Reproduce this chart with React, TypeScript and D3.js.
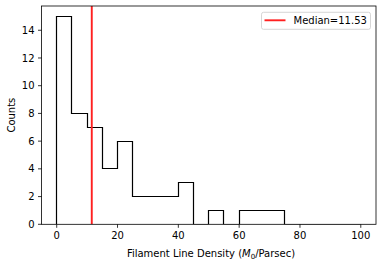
import React from 'react';
import * as d3 from 'd3';

// histogram bins (edges) and counts
const binEdges = [0, 5, 10, 15, 20, 25, 30, 35, 40, 45, 50, 55, 60, 65, 70, 75, 80, 85, 90, 95, 100];
const binCounts = [15, 8, 7, 4, 6, 2, 2, 2, 3, 0, 1, 0, 1, 1, 1, 0, 0, 0, 0, 0];
const medianValue = 11.53;
const xTicks = [0, 20, 40, 60, 80, 100];
const yTicks = [0, 2, 4, 6, 8, 10, 12, 14];

const W = 382;
const H = 266;
const margin = { left: 41.5, right: 6, top: 6, bottom: 41.7 };
const font = 'DejaVu Sans, sans-serif';

const snap = (v: number) => Math.round(v - 0.5) + 0.5;

const App = () => {
  const x = d3.scaleLinear().domain([-5, 105]).range([margin.left, W - margin.right]);
  const y = d3.scaleLinear().domain([0, 15.75]).range([H - margin.bottom, margin.top]);

  // step outline like matplotlib histtype='step'
  const pts: [number, number][] = [[binEdges[0], 0]];
  binCounts.forEach((c, i) => {
    pts.push([binEdges[i], c]);
    pts.push([binEdges[i + 1], c]);
  });
  pts.push([binEdges[binEdges.length - 1], 0]);
  const stepPath = d3.line<[number, number]>()
    .x(d => snap(x(d[0])))
    .y(d => snap(y(d[1])))(pts);

  const x0 = margin.left;
  const x1 = W - margin.right;
  const y0 = H - margin.bottom;
  const y1 = margin.top;

  return (
    <svg width={W} height={H} style={{ position: 'absolute', left: 0, top: 0, background: '#fff' }}>
      <rect x={0} y={0} width={W} height={H} fill="#fff" />
      <defs>
        <clipPath id="plotArea">
          <rect x={x0} y={y1} width={x1 - x0} height={y0 - y1} />
        </clipPath>
      </defs>
      <g clipPath="url(#plotArea)">
        <path d={stepPath || ''} fill="none" stroke="#000" strokeWidth={1.2} strokeLinejoin="miter" />
        <line x1={x(medianValue)} x2={x(medianValue)} y1={y1} y2={y0} stroke="#ff2020" strokeWidth={1.9} />
      </g>

      {/* spines */}
      <rect x={x0} y={y1} width={x1 - x0} height={y0 - y1} fill="none" stroke="#000" strokeWidth={0.8} />

      {/* x axis */}
      <g fontFamily={font} fontSize={10} textAnchor="middle">
        {xTicks.map(t => (
          <g key={t} transform={`translate(${x(t)},${y0})`}>
            <line y2={3.5} stroke="#000" strokeWidth={0.8} />
            <text y={7} dy="0.76em" fill="#000">{t}</text>
          </g>
        ))}
      </g>

      {/* y axis */}
      <g fontFamily={font} fontSize={10} textAnchor="end">
        {yTicks.map(t => (
          <g key={t} transform={`translate(${x0},${y(t)})`}>
            <line x2={-3.5} stroke="#000" strokeWidth={0.8} />
            <text x={-7} dy="0.36em" fill="#000">{t}</text>
          </g>
        ))}
      </g>

      <text x={211} y={257} textAnchor="middle" fontFamily={font} fontSize={10} fill="#000">
        Filament Line Density (<tspan fontStyle="italic">M</tspan><tspan fontSize={7} dy={2}>0</tspan><tspan dy={-2}>/Parsec)</tspan>
      </text>
      <text transform={`translate(15,${(y0 + y1) / 2}) rotate(-90)`} textAnchor="middle" fontFamily={font} fontSize={10} fill="#000">
        Counts
      </text>

      {/* legend */}
      <g>
        <rect x={261.5} y={12.3} width={109} height={17} rx={2} fill="#fff" fillOpacity={0.8} stroke="#ccc" strokeWidth={0.8} />
        <line x1={264.5} x2={285.5} y1={20.3} y2={20.3} stroke="#ff2020" strokeWidth={1.9} />
        <text x={293.5} y={24} fontFamily={font} fontSize={10} fill="#000">Median=11.53</text>
      </g>
    </svg>
  );
};

export default App;
